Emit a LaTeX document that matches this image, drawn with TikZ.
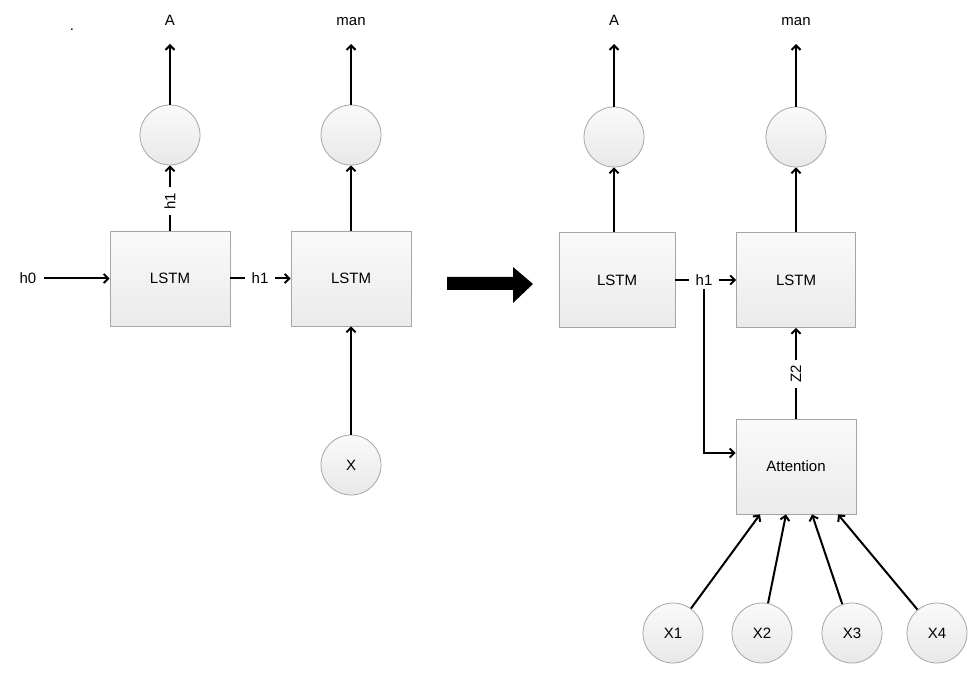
\documentclass[tikz,border=0pt]{standalone}
\usepackage{fontspec}
\setmainfont{Liberation Sans}
\usetikzlibrary{arrows.meta,calc}
\begin{document}
\begin{tikzpicture}[x=1pt,y=-1pt,
  every node/.style={font=\fontsize{15}{18}\selectfont},
  boxnode/.style={draw=black!35,line width=0.8pt,top color=black!2,bottom color=black!8,minimum width=120pt,minimum height=95pt,inner sep=0pt},
  circnode/.style={circle,draw=black!35,line width=0.8pt,top color=black!2,bottom color=black!9,minimum size=60pt,inner sep=0pt},
  lbl/.style={inner sep=5pt},
  conn/.style={line width=2pt},
  arr/.style={line width=2pt,-{Straight Barb[length=4.5pt,width=9pt]}}]
\useasboundingbox (0,0) rectangle (971,692);
% left part
\node (dot) [anchor=base] at (72,31) {.};
\node (l1) [boxnode] at (170,278.5) {LSTM};
\node (l2) [boxnode] at (351,278.5) {LSTM};
\node (c1) [circnode] at (170,135) {};
\node (c2) [circnode] at (351,135) {};
\node (oA) [anchor=base] at (170,26) {A};
\node (oman) [anchor=base] at (351,26) {man};
\coordinate (tA) at (170,44);
\coordinate (tman) at (351,44);
\node (x) [circnode] at (351,465) {X};
\node (h0) [lbl,inner sep=7pt] at (28,278.5) {h0};
\node (h1v) [lbl,rotate=90] at (170,201) {h1};
\node (h1h) [lbl,inner sep=6pt] at (260,278.5) {h1};
\draw[arr] (c1) -- (tA);
\draw[arr] (c2) -- (tman);
\draw[conn] (l1) -- (h1v);
\draw[arr] (h1v) -- (c1);
\draw[arr] (l2) -- (c2);
\draw[arr] (h0) -- (l1);
\draw[conn] (l1) -- (h1h);
\draw[arr] (h1h) -- (l2);
\draw[arr] (x) -- (l2);
% big arrow
\fill[black] (447,277) -- (513,277) -- (513,267) -- (533,284) -- (513,303) -- (513,290) -- (447,290) -- cycle;
% right part
\node (l3) [boxnode,minimum width=116pt] at (617,280) {LSTM};
\node (l4) [boxnode,minimum width=119pt] at (796,280) {LSTM};
\node (c3) [circnode] at (614,137) {};
\node (c4) [circnode] at (796,137) {};
\node (oA2) [anchor=base] at (614,26) {A};
\node (oman2) [anchor=base] at (796,26) {man};
\coordinate (tA2) at (614,44);
\coordinate (tman2) at (796,44);
\node (h1r) [lbl,inner sep=6pt] at (704,280) {h1};
\node (att) [boxnode,minimum height=95pt] at (796,466.5) {Attention};
\node (z2) [lbl,rotate=90] at (796,374) {Z2};
\node (x1) [circnode] at (673,633) {X1};
\node (x2) [circnode] at (762,633) {X2};
\node (x3) [circnode] at (852,633) {X3};
\node (x4) [circnode] at (937,633) {X4};
\draw[arr] (c3) -- (tA2);
\draw[arr] (c4) -- (tman2);
\draw[arr] (l3.north -| c3) -- (c3);
\draw[arr] (l4) -- (c4);
\draw[conn] (l3) -- (h1r);
\draw[arr] (h1r) -- (l4);
\draw[arr] ([yshift=3pt]h1r.south) |- ([yshift=13.5pt]att.west);
\draw[conn] (att) -- (z2);
\draw[arr] (z2) -- (l4);
\draw[arr] (x1) -- ([xshift=-36pt]att.south);
\draw[arr] (x2) -- ([xshift=-10pt]att.south);
\draw[arr] (x3) -- ([xshift=16pt]att.south);
\draw[arr] (x4) -- ([xshift=42pt]att.south);
\end{tikzpicture}
\end{document}
